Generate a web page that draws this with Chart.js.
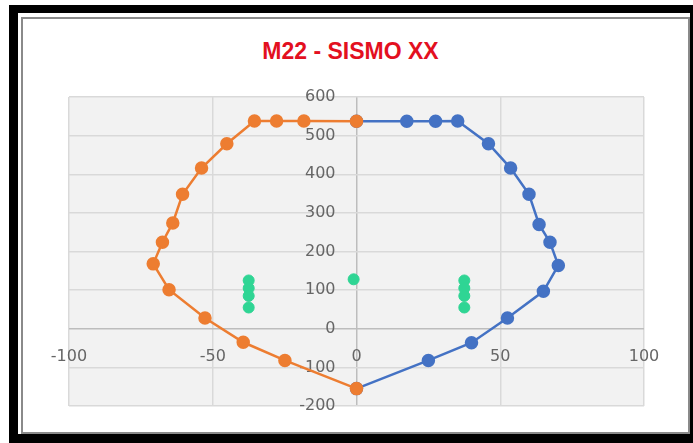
<!DOCTYPE html>
<html lang="es">
<head>
  <meta charset="UTF-8" />
  <title>M22 - SISMO XX</title>
  <script src="https://cdn.jsdelivr.net/npm/chart.js"></script>
  <style>
    html, body { margin: 0; padding: 0; background: #fff; }
    body { width: 693px; height: 443px; position: relative; overflow: hidden; }
    /* black outer frame + grey chart border */
    .frame {
      position: absolute; left: 9px; top: 5px; right: 0; bottom: 0;
      border-style: solid; border-color: #000;
      border-width: 8px 3px 9px 9px;
    }
    .inner {
      position: absolute; left: 21px; top: 17px; width: 665px; height: 413px;
      border: 2px solid #8a8a8a;
    }
    .title {
      position: absolute; left: 0; top: 40px; width: 701px; text-align: center;
      font: bold 23px/23px "Liberation Sans", Arial, sans-serif; color: #e3101f;
    }
    .wrap { position: absolute; left: 0; top: 0; width: 693px; height: 443px; }
  </style>
</head>
<body>
  <div class="frame"></div>
  <div class="inner"></div>
  <div class="title">M22 - SISMO XX</div>
  <div class="wrap"><canvas id="chart"></canvas></div>

  <script>
    // Interaction diagram points (M22, kN·m / axial)
    const positiveX = [0, 17.5, 27.5, 35.2, 45.9, 53.6, 60, 63.5, 67.3, 70.2, 65, 52.5, 40, 25, 0];
    const positiveY = [537, 537, 537, 538, 479, 416, 348, 270, 224, 164, 97, 28, -36, -82, -155];
    const negativeX = [0, -18.3, -27.8, -35.5, -45.1, -53.9, -60.5, -63.9, -67.5, -70.7, -65.2, -52.7, -39.4, -24.9, 0];
    const negativeY = [537, 538, 538, 538, 479, 416, 348, 274, 224, 168, 101, 28, -35, -82, -155];
    // demand points
    const demandX = [-37.5, -37.5, -37.5, -37.5, -1, 37.5, 37.5, 37.5, 37.5];
    const demandY = [125, 105, 85, 55, 128, 125, 105, 85, 55];

    const xTicks = [-100, -50, 0, 50, 100];
    const yTicks = [-200, -100, 0, 100, 200, 300, 400, 500, 600];

    const toPoints = (xs, ys) => xs.map((x, i) => ({ x: x, y: ys[i] }));

    // grey plot background
    const plotBg = {
      id: 'plotBg',
      beforeDraw(chart) {
        const { ctx, chartArea: a } = chart;
        ctx.save();
        ctx.fillStyle = '#f2f2f2';
        ctx.fillRect(a.left, a.top, a.right - a.left, a.bottom - a.top);
        ctx.restore();
      }
    };

    // Excel-style tick labels sitting next to the axes through the origin
    const crossLabels = {
      id: 'crossLabels',
      beforeDatasetsDraw(chart) {
        const { ctx, scales: { x, y } } = chart;
        const x0 = x.getPixelForValue(0);
        const y0 = y.getPixelForValue(0);
        ctx.save();
        ctx.font = '16px "DejaVu Sans"';
        ctx.fillStyle = '#666';
        ctx.textAlign = 'right';
        ctx.textBaseline = 'middle';
        yTicks.forEach(v => ctx.fillText(String(v), x0 - 21, y.getPixelForValue(v)));
        ctx.textAlign = 'center';
        xTicks.forEach(v => ctx.fillText(String(v), x.getPixelForValue(v), y0 + 28));
        ctx.restore();
      }
    };

    const gridColor = c => (c.tick && c.tick.value === 0) ? '#bdbdbd' : '#d9d9d9';

    new Chart(document.getElementById('chart'), {
      type: 'scatter',
      data: {
        datasets: [
          {
            label: 'Demanda',
            data: toPoints(demandX, demandY),
            backgroundColor: '#2fd594',
            borderColor: '#2fd594',
            pointRadius: 5.5,
            showLine: false
          },
          {
            label: 'M22 -',
            data: toPoints(negativeX, negativeY),
            backgroundColor: '#ed7d31',
            borderColor: '#ed7d31',
            borderWidth: 2.5,
            pointRadius: 5.5,
            showLine: true,
            tension: 0
          },
          {
            label: 'M22 +',
            data: toPoints(positiveX, positiveY),
            backgroundColor: '#4472c4',
            borderColor: '#4472c4',
            borderWidth: 2.5,
            pointRadius: 5.5,
            showLine: true,
            tension: 0
          }
        ]
      },
      options: {
        responsive: true,
        maintainAspectRatio: false,
        animation: false,
        layout: { padding: { left: 69, right: 49, top: 97, bottom: 37 } },
        plugins: { legend: { display: false }, tooltip: { enabled: false }, title: { display: false } },
        scales: {
          x: {
            min: -100, max: 100,
            ticks: { display: false, stepSize: 50 },
            grid: { color: gridColor, lineWidth: 1.5, drawTicks: false },
            border: { display: false }
          },
          y: {
            min: -200, max: 600,
            ticks: { display: false, stepSize: 100 },
            grid: { color: gridColor, lineWidth: 1.5, drawTicks: false },
            border: { display: false }
          }
        }
      },
      plugins: [plotBg, crossLabels]
    });
  </script>
</body>
</html>
